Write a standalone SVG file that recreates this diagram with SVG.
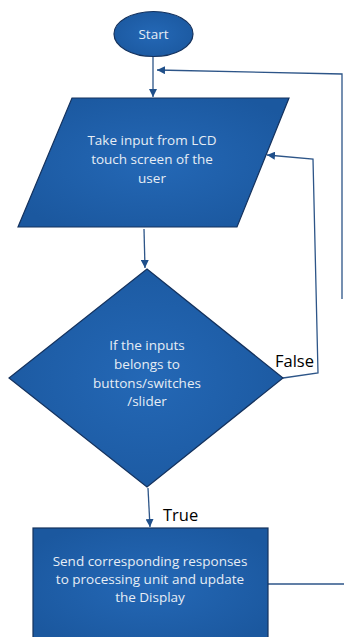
<svg xmlns="http://www.w3.org/2000/svg" width="344" height="637" viewBox="0 0 344 637">
<style>
.shape{fill:url(#g);stroke:#14325e;stroke-width:1.2}
.lbl{font-family:"Open Sans","Liberation Sans",sans-serif;font-size:13.5px;fill:#e6edf5;text-anchor:middle}
.edge{fill:none;stroke:#2d5588;stroke-width:1.3}
.tag{font-family:"Open Sans","Liberation Sans",sans-serif;font-size:16.5px;fill:#000}
</style>
<defs>
<radialGradient id="g" cx="50%" cy="50%" r="60%">
<stop offset="0" stop-color="#2468b6"/>
<stop offset="1" stop-color="#1b589f"/>
</radialGradient>
<marker id="ah" viewBox="0 0 10 10" refX="10" refY="5" markerWidth="8" markerHeight="8" markerUnits="userSpaceOnUse" orient="auto">
<path d="M0,0 L10,5 L0,10 z" fill="#1f4f8a"/>
</marker>
</defs>
<g id="connectors">
<line class="edge" x1="153" y1="57" x2="153" y2="97" marker-end="url(#ah)"/>
<polyline class="edge" points="342,299 342,74 157,70" marker-end="url(#ah)"/>
<line class="edge" x1="144" y1="229" x2="145" y2="268" marker-end="url(#ah)"/>
<polyline class="edge" points="283,378 318,373 313,159 267,155" marker-end="url(#ah)"/>
<line class="edge" x1="148" y1="488" x2="150" y2="527" marker-end="url(#ah)"/>
<line class="edge" x1="268" y1="584" x2="344" y2="584"/>
<text class="tag" x="275" y="367">False</text>
<text class="tag" x="163" y="521">True</text>
</g>
<g id="start">
<ellipse class="shape" cx="153.5" cy="34" rx="39.5" ry="22.5"/>
<text class="lbl" x="153.5" y="38.5">Start</text>
</g>
<g id="input">
<polygon class="shape" points="72,98 289,98 237,227 18,227"/>
<text class="lbl" x="152" y="145">Take input from LCD</text>
<text class="lbl" x="152" y="164">touch screen of the</text>
<text class="lbl" x="152" y="183">user</text>
</g>
<g id="decision">
<polygon class="shape" points="147,269 283,378 147,487 9,378"/>
<text class="lbl" x="147" y="350">If the inputs</text>
<text class="lbl" x="147" y="369">belongs to</text>
<text class="lbl" x="147" y="388">buttons/switches</text>
<text class="lbl" x="147" y="406">/slider</text>
</g>
<g id="process">
<rect class="shape" x="33" y="528" width="235" height="115"/>
<text class="lbl" x="150" y="566">Send corresponding responses</text>
<text class="lbl" x="150" y="584">to processing unit and update</text>
<text class="lbl" x="150" y="602">the Display</text>
</g>
</svg>
